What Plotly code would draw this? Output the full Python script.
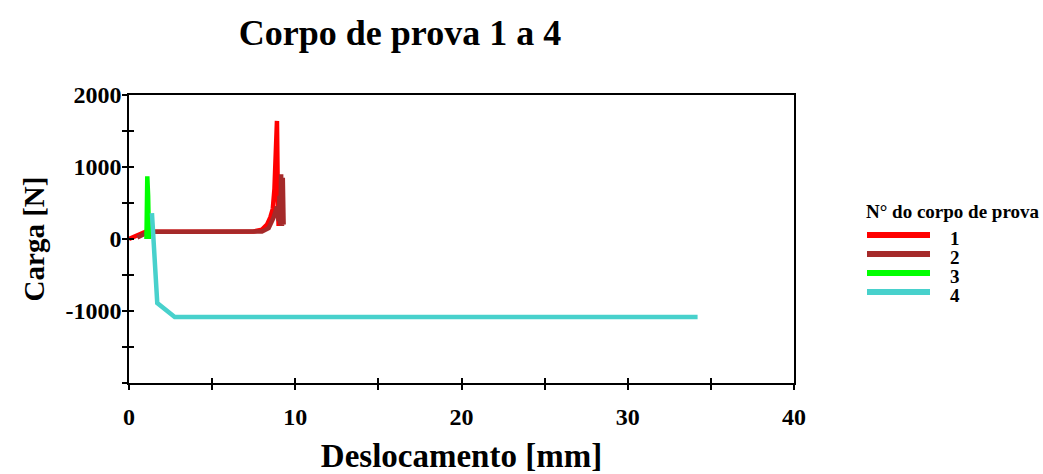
import plotly.graph_objects as go

# Ensaios: deslocamento [mm] x carga [N]
desloc_1 = [0.0, 0.3, 0.6, 0.85, 1.0, 2.0, 4.0, 6.0, 7.5, 8.0, 8.3, 8.5, 8.65, 8.75, 8.85, 8.9, 8.95, 9.0]
carga_1 = [0, 30, 60, 90, 100, 100, 100, 100, 105, 130, 200, 300, 420, 700, 1300, 1640, 600, 180]

desloc_2 = [0.5, 0.8, 1.0, 1.2, 3.0, 5.0, 7.0, 8.0, 8.4, 8.7, 8.9, 9.0, 9.05, 9.1, 9.15, 9.2, 9.25, 9.3]
carga_2 = [20, 60, 90, 100, 100, 100, 100, 105, 150, 300, 450, 250, 600, 200, 900, 180, 850, 200]

desloc_3 = [1.05, 1.1, 1.15, 1.2]
carga_3 = [0, 870, 600, 0]

desloc_4 = [1.38, 1.7, 2.75, 5.0, 10.0, 15.0, 20.0, 25.0, 27.0, 30.0, 32.0, 34.2]
carga_4 = [360, -890, -1085, -1085, -1080, -1085, -1085, -1085, -1090, -1088, -1082, -1085]

series_labels = ["1", "2", "3", "4"]
series_colors = ["#FF0000", "#A52A2A", "#00FF00", "#48D1CC"]

y_tick_vals = [-1000, 0, 1000, 2000]
y_tick_text = ["-1000", "0", "1000", "2000"]

W, H = 1043, 474
ML, MR, MT, MB = 129, 249, 95, 91
SERIF = "Liberation Serif, Times New Roman, serif"

fig = go.Figure()
for xs, ys, name, color in zip(
    [desloc_1, desloc_2, desloc_3, desloc_4],
    [carga_1, carga_2, carga_3, carga_4],
    series_labels, series_colors,
):
    fig.add_trace(go.Scatter(x=xs, y=ys, mode="lines", name=name,
                             line=dict(color=color, width=4.5), showlegend=False))

tick_font = dict(family=SERIF, size=24, color="black", weight="bold")
axis_common = dict(showgrid=False, zeroline=False, showline=True, linecolor="black",
                   linewidth=1.5, tickcolor="black", tickwidth=1.5, ticklen=5,
                   automargin=False)

fig.update_layout(
    width=W, height=H,
    paper_bgcolor="white", plot_bgcolor="white",
    margin=dict(l=ML, r=MR, t=MT, b=MB),
    title=dict(text="Corpo de prova 1 a 4", x=400 / W, xanchor="center",
               y=1 - 32 / H, yanchor="middle",
               font=dict(family=SERIF, size=36, color="black", weight="bold")),
    xaxis=dict(range=[0, 40], dtick=10, ticks="outside", mirror=True,
               minor=dict(dtick=5, ticks="outside", ticklen=5, tickcolor="black", tickwidth=1.5),
               tickfont=tick_font, ticklabelstandoff=6,
               title=dict(text="Deslocamento [mm]", standoff=22,
                          font=dict(family=SERIF, size=33, color="black", weight="bold")),
               **axis_common),
    yaxis=dict(range=[-2000, 2000], tickvals=y_tick_vals, ticktext=y_tick_text,
               ticks="outside", mirror=True,
               minor=dict(dtick=500, ticks="outside", ticklen=5, tickcolor="black", tickwidth=1.5),
               tickfont=tick_font, ticklabelstandoff=-4,
               title=dict(text="Carga [N]", standoff=12,
                          font=dict(family=SERIF, size=29, color="black", weight="bold")),
               **axis_common),
    # overlay axes give the ticks their inner half so they cross the axis lines
    xaxis2=dict(range=[0, 40], dtick=5, ticks="inside", overlaying="x", anchor="y",
                side="bottom", showticklabels=False, showgrid=False, zeroline=False,
                showline=False, tickcolor="black", tickwidth=1.5, ticklen=5),
    yaxis2=dict(range=[-2000, 2000], tick0=-1500, dtick=500, ticks="inside", overlaying="y",
                anchor="x", side="left", showticklabels=False, showgrid=False, zeroline=False,
                showline=False, tickcolor="black", tickwidth=1.5, ticklen=5),
)

# invisible trace so the overlay axes are drawn
fig.add_trace(go.Scatter(x=[0], y=[0], xaxis="x2", yaxis="y2", mode="markers",
                         marker=dict(opacity=0), showlegend=False, hoverinfo="skip"))

# legend drawn beside the plot
pw, ph = W - ML - MR, H - MT - MB
fig.add_annotation(text="N° do corpo de prova", xref="paper", yref="paper",
                   x=(864 - ML) / pw, y=1 - (211 - MT) / ph,
                   xanchor="left", yanchor="middle", showarrow=False,
                   font=dict(family=SERIF, size=19, color="black", weight="bold"))
legend_rows = [235, 254, 273, 292]
for name, color, py in zip(series_labels, series_colors, legend_rows):
    yp = 1 - (py - MT) / ph
    fig.add_shape(type="line", xref="paper", yref="paper",
                  x0=(867 - ML) / pw, x1=(930 - ML) / pw, y0=yp, y1=yp,
                  line=dict(color=color, width=6))
    fig.add_annotation(text=name, xref="paper", yref="paper",
                       x=(955 - ML) / pw, y=1 - (py + 3 - MT) / ph,
                       xanchor="center", yanchor="middle", showarrow=False,
                       font=dict(family=SERIF, size=19, color="black", weight="bold"))

fig.write_html("out.html")
